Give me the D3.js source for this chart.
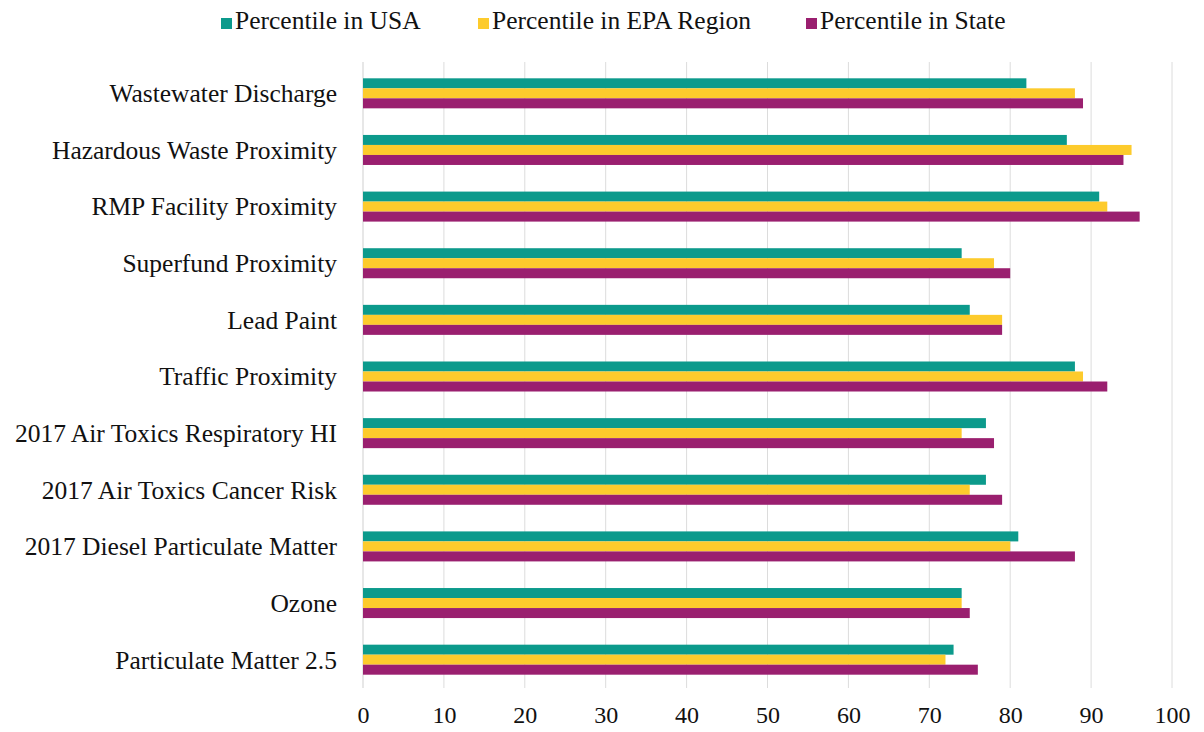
<!DOCTYPE html>
<html>
<head>
<meta charset="utf-8">
<script src="https://cdn.jsdelivr.net/npm/d3@7"></script>
<style>
  body { margin: 0; background: #fff; }
  text { font-family: "Liberation Serif", "Times New Roman", serif; fill: #111; }
</style>
</head>
<body>
<svg id="chart" width="1204" height="732"></svg>
<script>
var categories = [
  'Wastewater Discharge',
  'Hazardous Waste Proximity',
  'RMP Facility Proximity',
  'Superfund Proximity',
  'Lead Paint',
  'Traffic Proximity',
  '2017 Air Toxics Respiratory HI',
  '2017 Air Toxics Cancer Risk',
  '2017 Diesel Particulate Matter',
  'Ozone',
  'Particulate Matter 2.5'
];
var seriesNames = ['Percentile in USA', 'Percentile in EPA Region', 'Percentile in State'];
var usaValues   = [82, 87, 91, 74, 75, 88, 77, 77, 81, 74, 73];
var epaValues   = [88, 95, 92, 78, 79, 89, 74, 75, 80, 74, 72];
var stateValues = [89, 94, 96, 80, 79, 92, 78, 79, 88, 75, 76];
var xTicks = [0, 10, 20, 30, 40, 50, 60, 70, 80, 90, 100];
var colors = ['#0c9a8c', '#fdcb2c', '#9a1f6f'];

var seriesValues = [usaValues, epaValues, stateValues];

var svg = d3.select('#chart');
var plotLeft = 363, plotTop = 65, plotRight = 1172, plotBottom = 688;
var plotH = plotBottom - plotTop;

var xScale = d3.scaleLinear().domain([0, 100]).range([0, plotRight - plotLeft]);
var yScale = d3.scaleBand().domain(categories).range([0, plotH]).paddingInner(0.47).paddingOuter(0.235);
var inner = d3.scaleBand().domain(d3.range(3)).range([0, yScale.bandwidth()]);

var g = svg.append('g').attr('transform', 'translate(' + plotLeft + ',' + plotTop + ')');

// grid lines
g.selectAll('.grid').data(xTicks.slice(1)).enter()
  .append('line')
  .attr('x1', function(d){return xScale(d)})
  .attr('x2', function(d){return xScale(d)})
  .attr('y1', -3)
  .attr('y2', plotH)
  .attr('stroke', '#dcdcdc')
  .attr('stroke-width', 1);

// y axis line
g.append('line')
  .attr('x1', 0).attr('x2', 0)
  .attr('y1', -3).attr('y2', plotH)
  .attr('stroke', '#cfcfcf');

var groups = g.selectAll('.cat').data(categories).enter()
  .append('g')
  .attr('transform', function(d){return 'translate(0,' + yScale(d) + ')'});

groups.selectAll('rect').data(function(d, i){
    return seriesValues.map(function(vals, s){ return { s: s, v: vals[i] }; });
  }).enter()
  .append('rect')
  .attr('x', 0)
  .attr('y', function(d){return inner(d.s)})
  .attr('width', function(d){return xScale(d.v)})
  .attr('height', inner.bandwidth())
  .attr('fill', function(d){return colors[d.s]});

// category labels
groups.append('text')
  .attr('x', -26)
  .attr('y', yScale.bandwidth() / 2 + 3)
  .attr('text-anchor', 'end')
  .attr('dominant-baseline', 'middle')
  .style('font-size', '25.5px')
  .text(function(d){return d});

// x axis tick labels
var xAxis = d3.axisBottom(xScale).tickValues(xTicks).tickSize(0).tickPadding(0);
var ax = g.append('g')
  .attr('transform', 'translate(0,' + (plotH + 18) + ')')
  .call(xAxis);
ax.select('.domain').remove();
ax.selectAll('text')
  .style('font-size', '24px')
  .style('font-family', '"Liberation Serif", serif')
  .attr('fill', '#111');

// legend
var legendX = [221, 478, 806];
var legend = svg.selectAll('.legend').data(seriesNames).enter()
  .append('g')
  .attr('transform', function(d, i){return 'translate(' + legendX[i] + ',23)'});
legend.append('rect')
  .attr('x', 0).attr('y', -5)
  .attr('width', 11).attr('height', 11)
  .attr('fill', function(d, i){return colors[i]});
legend.append('text')
  .attr('x', 14)
  .attr('y', 0)
  .attr('dominant-baseline', 'middle')
  .style('font-size', '25.5px')
  .text(function(d){return d});
</script>
</body>
</html>
